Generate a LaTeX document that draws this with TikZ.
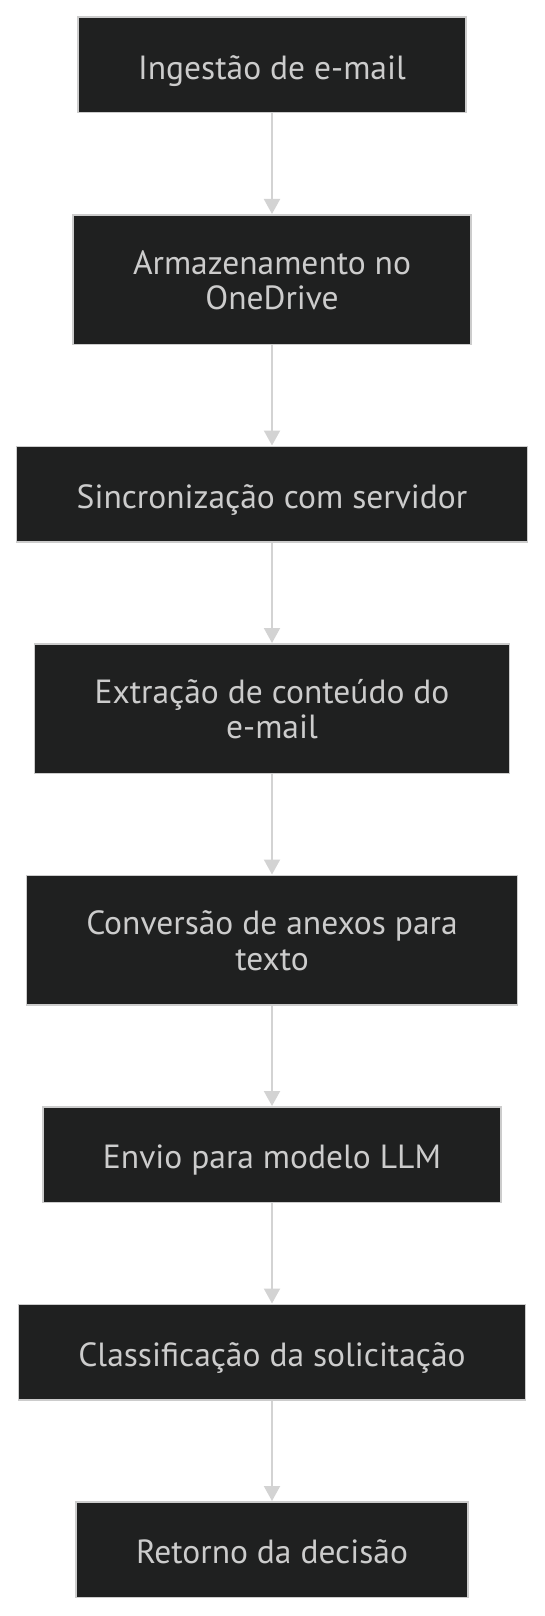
\documentclass[tikz,border=0pt]{standalone}
\usepackage{fontspec}
\setmainfont{PT Sans}
\usepackage{xcolor}
\usepackage{tikz}
\usetikzlibrary{arrows.meta,positioning}

\definecolor{nodefill}{HTML}{1F2020}
\definecolor{nodeline}{HTML}{CCCCCC}
\definecolor{nodetext}{HTML}{CCCCCC}
\definecolor{arrowgray}{HTML}{D3D3D3}

% same line box for every stage
\newcommand{\stagefont}{\fontsize{33.5}{35.5}\selectfont\setlength{\lineskiplimit}{-100pt}}
\newcommand{\stagestrut}{\vrule width 0pt height 36pt depth 7.6pt\relax}
\newcommand{\tallstrut}{\vrule width 0pt height 68.1pt depth 7.6pt\relax}

\begin{document}
\begin{tikzpicture}[
  x=1pt, y=1pt,
  node distance=100.5pt,
  stage/.style={draw=nodeline, fill=nodefill, text=nodetext, line width=1.5pt,
                align=center, minimum height=95.5pt, inner xsep=60pt,
                font=\stagefont,
                execute at begin node=\stagestrut,
                execute at end node=\stagestrut},
  tallstage/.style={stage, minimum height=129.5pt,
                    execute at begin node=\tallstrut},
  arr/.style={-{Triangle[length=15pt, width=16pt]}, draw=arrowgray,
              line width=2pt}
]
\path[use as bounding box, fill=white] (0,0) rectangle (544,-1616);

\node[stage] (ingest) at (272,-65) {Ingestão de e-mail};
\node[tallstage, below=of ingest] (store) {Armazenamento no\\OneDrive};
\node[stage, below=of store] (sync) {Sincronização com servidor};
\node[tallstage, below=of sync] (extract) {Extração de conteúdo do\\e-mail};
\node[tallstage, below=of extract] (convert) {Conversão de anexos para\\texto};
\node[stage, below=of convert] (send) {Envio para modelo LLM};
\node[stage, below=of send] (classify) {Classificação da solicitação};
\node[stage, below=of classify] (reply) {Retorno da decisão};

\draw[arr] (ingest) -- (store);
\draw[arr] (store) -- (sync);
\draw[arr] (sync) -- (extract);
\draw[arr] (extract) -- (convert);
\draw[arr] (convert) -- (send);
\draw[arr] (send) -- (classify);
\draw[arr] (classify) -- (reply);
\end{tikzpicture}
\end{document}
